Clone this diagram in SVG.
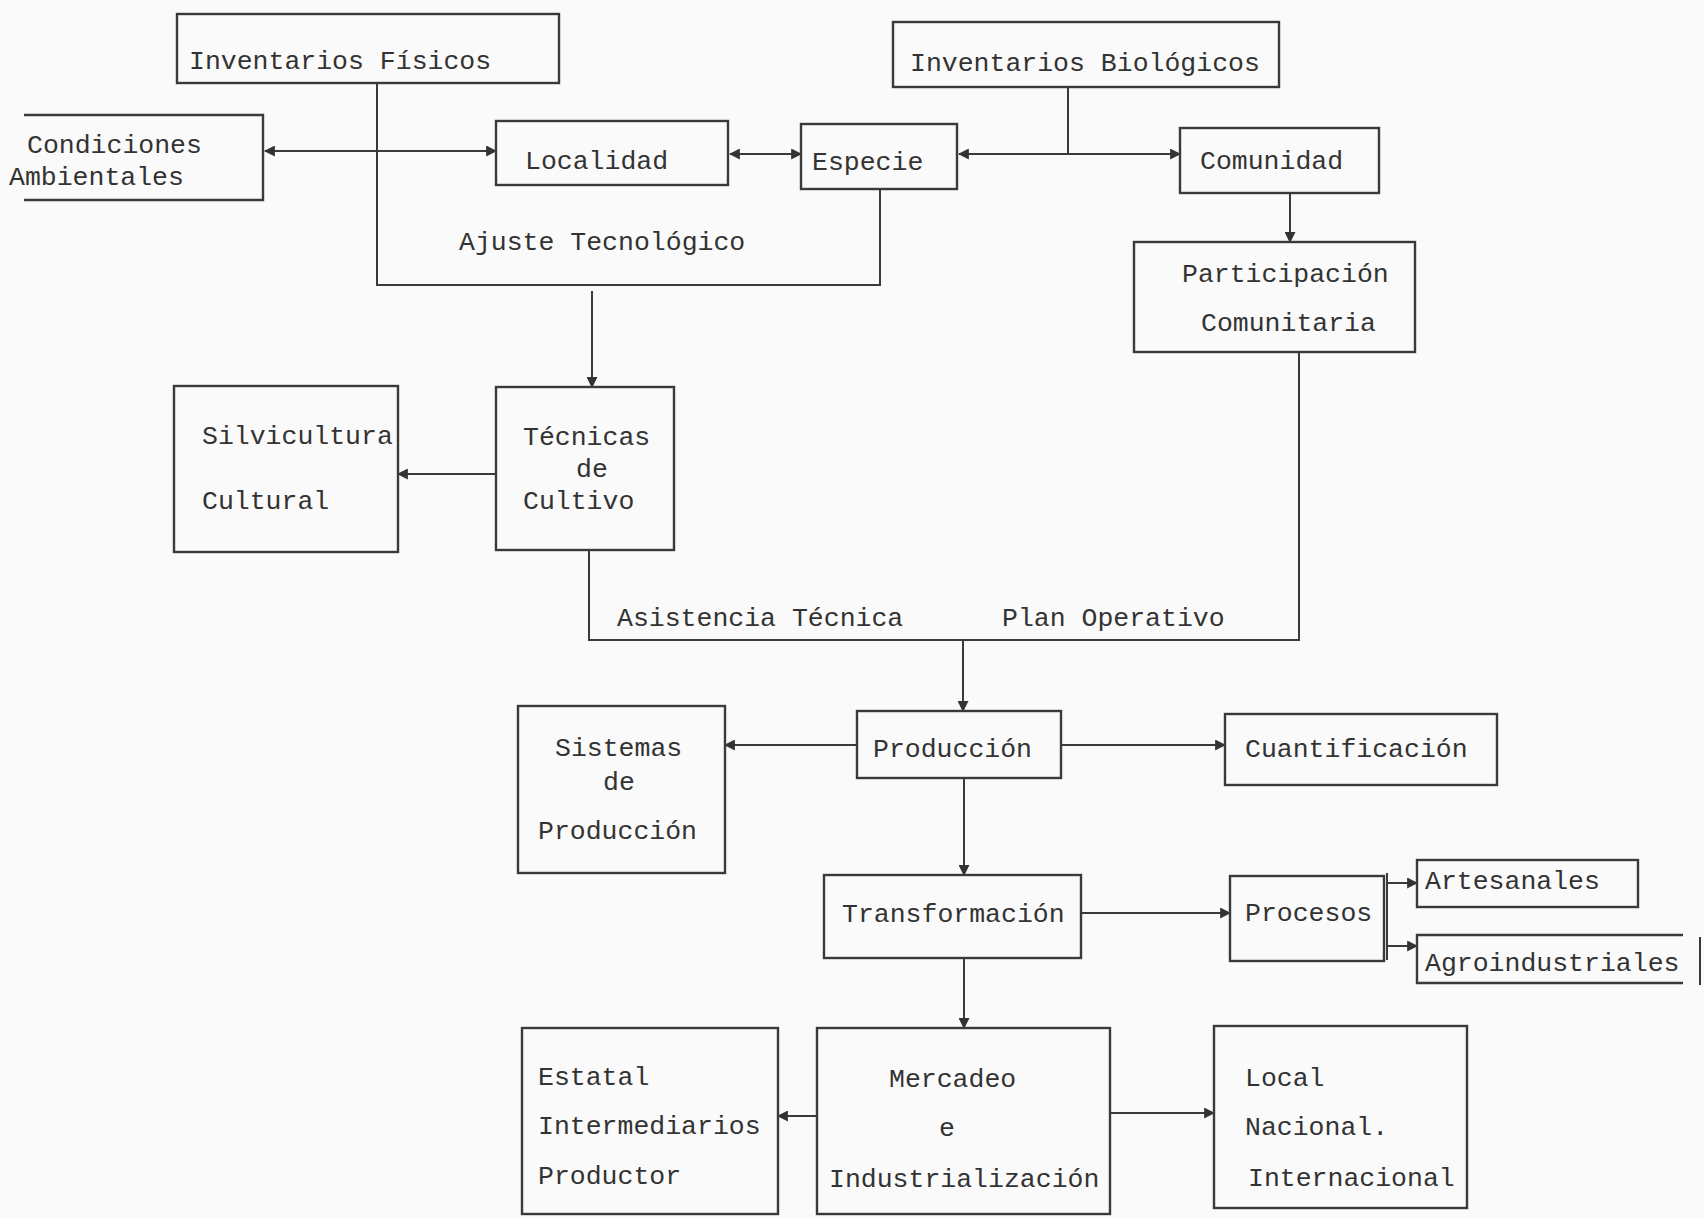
<svg xmlns="http://www.w3.org/2000/svg" width="1704" height="1217" viewBox="0 0 1704 1217">
<style>
.bx{fill:none;stroke:#3a3a3a;stroke-width:2.4}
.t{font-family:"Liberation Mono","DejaVu Sans Mono",monospace;font-size:26.5px;fill:#333}
.c{fill:none;stroke:#3a3a3a;stroke-width:2}
.a{marker-end:url(#ah)}
.b{marker-start:url(#ah);marker-end:url(#ah)}
</style>
<defs>
<marker id="ah" viewBox="0 0 10 10" refX="9" refY="5" markerWidth="11" markerHeight="11" markerUnits="userSpaceOnUse" orient="auto-start-reverse">
<path d="M0,0 L10,5 L0,10 z" fill="#333"/>
</marker>
</defs>
<rect width="1704" height="1217" fill="#fafafa"/>
<g id="connectors">
<path class="c" d="M377,83 V285 H880 V189"/>
<path class="c a" d="M592,291 V387"/>
<path class="c b" d="M265,151 H496"/>
<path class="c b" d="M730,154 H801"/>
<path class="c" d="M1068,87 V154"/>
<path class="c b" d="M959,154 H1180"/>
<path class="c a" d="M1290,193 V242"/>
<path class="c" d="M589,550 V640 H1299 V352"/>
<path class="c a" d="M963,640 V711"/>
<path class="c a" d="M496,474 H398"/>
<path class="c a" d="M857,745 H725"/>
<path class="c a" d="M1061,745 H1225"/>
<path class="c a" d="M964,778 V875"/>
<path class="c a" d="M1081,913 H1230"/>
<path class="c" d="M1387,873 V960"/>
<path class="c a" d="M1387,883 H1417"/>
<path class="c a" d="M1387,946 H1417"/>
<path class="c a" d="M964,958 V1028"/>
<path class="c a" d="M817,1116 H778"/>
<path class="c a" d="M1110,1113 H1214"/>
<path class="c" d="M1700,937 V985"/>
</g>
<g id="inventarios-fisicos"><rect class="bx" x="177" y="14" width="382" height="69"/><text class="t" x="189" y="69">Inventarios Físicos</text></g>
<g id="inventarios-biologicos"><rect class="bx" x="893" y="22" width="386" height="65"/><text class="t" x="910" y="71">Inventarios Biológicos</text></g>
<g id="condiciones-ambientales"><path class="bx" d="M24,115 H263 V200 H24"/><text class="t" x="27" y="153">Condiciones</text><text class="t" x="9" y="185">Ambientales</text></g>
<g id="localidad"><rect class="bx" x="496" y="121" width="232" height="64"/><text class="t" x="525" y="169">Localidad</text></g>
<g id="especie"><rect class="bx" x="801" y="124" width="156" height="65"/><text class="t" x="812" y="170">Especie</text></g>
<g id="comunidad"><rect class="bx" x="1180" y="128" width="199" height="65"/><text class="t" x="1200" y="169">Comunidad</text></g>
<g id="participacion"><rect class="bx" x="1134" y="242" width="281" height="110"/><text class="t" x="1182" y="282">Participación</text><text class="t" x="1201" y="331">Comunitaria</text></g>
<g id="ajuste-label"><text class="t" x="459" y="250">Ajuste Tecnológico</text></g>
<g id="silvicultura"><rect class="bx" x="174" y="386" width="224" height="166"/><text class="t" x="202" y="444">Silvicultura</text><text class="t" x="202" y="509">Cultural</text></g>
<g id="tecnicas"><rect class="bx" x="496" y="387" width="178" height="163"/><text class="t" x="523" y="445">Técnicas</text><text class="t" x="576" y="477">de</text><text class="t" x="523" y="509">Cultivo</text></g>
<g id="asistencia-label"><text class="t" x="617" y="626">Asistencia Técnica</text></g>
<g id="plan-label"><text class="t" x="1002" y="626">Plan Operativo</text></g>
<g id="sistemas"><rect class="bx" x="518" y="706" width="207" height="167"/><text class="t" x="555" y="756">Sistemas</text><text class="t" x="603" y="790">de</text><text class="t" x="538" y="839">Producción</text></g>
<g id="produccion"><rect class="bx" x="857" y="711" width="204" height="67"/><text class="t" x="873" y="757">Producción</text></g>
<g id="cuantificacion"><rect class="bx" x="1225" y="714" width="272" height="71"/><text class="t" x="1245" y="757">Cuantificación</text></g>
<g id="transformacion"><rect class="bx" x="824" y="875" width="257" height="83"/><text class="t" x="842" y="922">Transformación</text></g>
<g id="procesos"><rect class="bx" x="1230" y="876" width="154" height="85"/><text class="t" x="1245" y="921">Procesos</text></g>
<g id="artesanales"><rect class="bx" x="1417" y="860" width="221" height="47"/><text class="t" x="1425" y="889">Artesanales</text></g>
<g id="agroindustriales"><path class="bx" d="M1683,935 H1417 V983 H1683"/><text class="t" x="1425" y="971">Agroindustriales</text></g>
<g id="estatal"><rect class="bx" x="522" y="1028" width="256" height="186"/><text class="t" x="538" y="1085">Estatal</text><text class="t" x="538" y="1134">Intermediarios</text><text class="t" x="538" y="1184">Productor</text></g>
<g id="mercadeo"><rect class="bx" x="817" y="1028" width="293" height="186"/><text class="t" x="889" y="1087">Mercadeo</text><text class="t" x="939" y="1136">e</text><text class="t" x="829" y="1187">Industrialización</text></g>
<g id="local"><rect class="bx" x="1214" y="1026" width="253" height="182"/><text class="t" x="1245" y="1086">Local</text><text class="t" x="1245" y="1135">Nacional.</text><text class="t" x="1248" y="1186">Internacional</text></g>
</svg>
